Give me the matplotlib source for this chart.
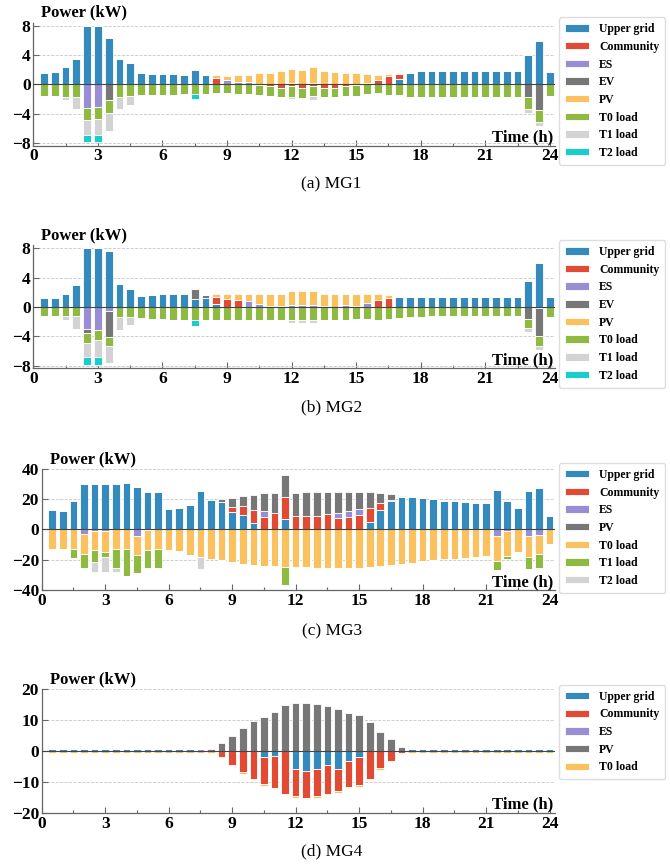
import numpy as np
import matplotlib
matplotlib.use("Agg")
import matplotlib.pyplot as plt
from matplotlib.patches import Patch
from matplotlib.ticker import MultipleLocator

plt.rcParams['font.family'] = ['Liberation Serif', 'DejaVu Serif']

# half-hour slots, 0.5 h ... 24 h
hours = np.arange(1, 49) * 0.5

# ---------------- MG1 (signed: + supply, - consumption) ----------------
mg1_grid = [1.6, 1.65, 2.3, 3.45, 8.0, 8.0, 6.4, 3.45, 2.85, 1.5,
            1.4, 1.4, 1.4, 1.3, 2.0, 1.3, 0, 0, 0, 0,
            0, 0, 0, 0, 0, 0, 0, 0, 0, 0,
            0, 0, 0, 0.7, 1.6, 1.8, 1.8, 1.85, 1.8, 1.8,
            1.8, 1.8, 1.8, 1.8, 1.8, 4.0, 5.9, 1.7]
mg1_comm = [0, 0, 0, 0, 0, 0, 0, 0, 0, 0,
            0, 0, 0, 0, 0, 0, 0.9, 0, 0, 0,
            -0.15, -0.2, -0.45, -0.3, -0.55, -0.2, -0.5, -0.5, -0.2, -0.15,
            0, 0.6, 1.1, 0.75, 0, 0, 0, 0, 0, 0,
            0, 0, 0, 0, 0, 0, 0, 0]
mg1_es = [0, 0, 0, 0, -3.3, -3.05, 0, 0, 0, 0,
          0, 0, 0, 0, 0, 0, 0, 0.6, 0.3, 0.3,
          0, 0, 0, 0.15, 0, 0.2, 0, 0, 0, 0,
          0.15, 0, 0, 0, 0, 0, 0, 0, 0, 0,
          0, 0, 0, 0, 0, 0, 0, 0]
mg1_ev = [0, 0, 0, 0, 0, 0, -2.2, 0, 0, 0,
          0, 0, 0, 0, 0, 0, 0, 0, 0, 0,
          0, 0, 0, 0, 0, 0, 0, 0, 0, 0,
          0, 0, 0, 0, 0, 0, 0, 0, 0, 0,
          0, 0, 0, 0, 0, -1.7, -3.5, 0]
mg1_pv = [0, 0, 0, 0, 0, 0, 0, 0, 0, 0,
          0, 0, 0, 0, 0.1, 0, 0.35, 0.6, 1.0, 1.0,
          1.5, 1.6, 1.85, 1.95, 1.95, 2.1, 1.8, 1.7, 1.6, 1.6,
          1.25, 0.7, 0.3, 0.05, 0, 0, 0, 0, 0, 0,
          0, 0, 0, 0, 0, 0, 0, 0]
mg1_t0 = [-1.6, -1.6, -1.7, -1.7, -1.65, -1.65, -1.75, -1.7, -1.6, -1.45,
          -1.45, -1.45, -1.45, -1.3, -1.3, -1.3, -1.2, -1.2, -1.3, -1.3,
          -1.3, -1.4, -1.3, -1.4, -1.35, -1.35, -1.25, -1.2, -1.35, -1.4,
          -1.3, -1.25, -1.45, -1.45, -1.7, -1.75, -1.75, -1.75, -1.75, -1.75,
          -1.75, -1.75, -1.75, -1.75, -1.75, -1.65, -1.7, -1.6]
mg1_t1 = [0, 0, -0.5, -1.7, -1.95, -2.2, -2.4, -1.7, -1.2, 0,
          0, 0, 0, 0, 0, 0, 0, 0, 0, 0,
          0, 0, 0, -0.35, 0, -0.65, 0, 0, 0, 0,
          0, 0, 0, 0, 0, 0, 0, 0, 0, 0,
          0, 0, 0, 0, 0, -0.6, -0.55, 0]
mg1_t2 = [0, 0, 0, 0, -1.05, -1.05, 0, 0, 0, 0,
          0, 0, 0, 0, -0.75, 0, 0, 0, 0, 0,
          0, 0, 0, 0, 0, 0, 0, 0, 0, 0,
          0, 0, 0, 0, 0, 0, 0, 0, 0, 0,
          0, 0, 0, 0, 0, 0, 0, 0]

# ---------------- MG2 ----------------
mg2_grid = [1.27, 1.27, 1.8, 3.0, 8.0, 8.0, 7.65, 3.15, 2.5, 1.45,
            1.6, 1.7, 1.7, 1.7, 1.1, 1.27, 0.45, 0, 0, 0,
            0, 0, 0, 0, 0, 0, 0, 0, 0, 0,
            0, 0, 0, 1.35, 1.3, 1.35, 1.35, 1.35, 1.35, 1.35,
            1.35, 1.35, 1.35, 1.35, 1.35, 3.6, 6.0, 1.35]
mg2_comm = [0, 0, 0, 0, 0, 0, 0, 0, 0, 0,
            0, 0, 0, 0, 0, 0, 0.95, 1.1, 0.9, 0,
            0, 0, 0, 0, 0, 0, 0, 0, 0, 0,
            0, 1.0, 1.2, 0, 0, 0, 0, 0, 0, 0,
            0, 0, 0, 0, 0, 0, 0, 0]
mg2_es = [0, 0, 0, 0, -2.95, -3.2, -0.6, 0, 0, 0,
          0, 0, 0, 0, 0, 0, 0, 0, 0, 0.75,
          0.4, 0.15, 0.1, 0.3, 0.2, 0.2, 0.1, 0, 0.2, 0.15,
          0.6, 0, 0, 0, 0, 0, 0, 0, 0, 0,
          0, 0, 0, 0, 0, 0, -0.2, 0]
mg2_ev = [0, 0, 0, 0, -0.65, 0, -3.55, 0, 0, 0,
          0, 0, 0.1, 0.1, 1.4, 0.4, 0, 0, 0, 0,
          0, 0, 0, 0, 0, 0, 0, 0, 0, 0,
          0, 0, 0, 0, 0, 0, 0, 0, 0, 0,
          0, 0, 0, 0, 0, -1.6, -3.8, 0]
mg2_pv = [0, 0, 0, 0, 0, 0, 0, 0, 0, 0,
          0, 0, 0, 0, 0.1, 0, 0.4, 0.7, 0.9, 1.05,
          1.4, 1.65, 1.7, 1.9, 2.0, 2.0, 1.7, 1.7, 1.5, 1.55,
          1.1, 0.7, 0.45, 0.15, 0, 0.05, 0, 0, 0, 0,
          0, 0, 0, 0, 0, 0, 0, 0]
mg2_t0 = [-1.27, -1.27, -1.27, -1.27, -1.35, -1.25, -1.25, -1.35, -1.35, -1.5,
          -1.6, -1.7, -1.75, -1.75, -1.8, -1.75, -1.75, -1.75, -1.75, -1.8,
          -1.75, -1.75, -1.75, -1.8, -1.8, -1.8, -1.8, -1.75, -1.75, -1.65,
          -1.65, -1.75, -1.65, -1.5, -1.35, -1.35, -1.27, -1.27, -1.27, -1.27,
          -1.27, -1.27, -1.27, -1.27, -1.27, -1.25, -1.35, -1.35]
mg2_t1 = [0, 0, -0.55, -1.8, -1.95, -2.45, -2.3, -1.8, -1.15, 0,
          0, 0, 0, 0, 0, 0, 0, 0, 0, 0,
          0, 0, 0, -0.35, -0.45, -0.35, 0, 0, 0, 0,
          0, 0, 0, 0, 0, 0, 0, 0, 0, 0,
          0, 0, 0, 0, 0, -0.6, -0.55, 0]
mg2_t2 = [0, 0, 0, 0, -1.0, -1.0, 0, 0, 0, 0,
          0, 0, 0, 0, -0.75, 0, 0, 0, 0, 0,
          0, 0, 0, 0, 0, 0, 0, 0, 0, 0,
          0, 0, 0, 0, 0, 0, 0, 0, 0, 0,
          0, 0, 0, 0, 0, 0, 0, 0]

# ---------------- MG3 ----------------
mg3_grid = [12.8, 12.4, 18.5, 29.8, 30, 30, 30, 30.4, 28.3, 25,
            24.7, 13.5, 14.1, 16.1, 25.6, 19.2, 18.3, 11.7, 9.5, 4.4,
            0, 0, 6.6, 0, 0, 0, 0, 0, 0, 0,
            5.1, 13.2, 18.8, 21.2, 21.2, 20.5, 19.9, 18.8, 18.5, 18.1,
            17.7, 17.2, 26, 18.8, 14.3, 25.6, 27.2, 8.8]
mg3_comm = [0, 0, 0, 0, 0, 0, 0, 0, 0, 0,
            0, 0, 0, 0, 0, 0, 0, 3.3, 6.0, 8.8,
            8.4, 10.6, 14.6, 9, 9, 9, 10.2, 7.7, 8.4, 9.5,
            9.0, 4.0, 0.7, 0, 0, 0, 0, 0, 0, 0,
            0, 0, 0, 0, 0, 0, 0, 0]
mg3_es = [0, 0, 0, -3.1, -1.0, -1.2, 0, 0, -4.4, -0.5,
          0, 0, 0, 0, 0, 0, 0, 0, 0, 0,
          4.0, 0, 0, 0, 0, 0, 0, 3.5, 4.0, 4.0,
          0, 0, 0, 0, 0, 0, 0, 0, 0, 0,
          0, 0, -4.2, -1.0, 0, -4.2, -3.5, 0]
mg3_pv = [0, 0, 0, 0, 0, 0, 0, 0, 0, 0,
          0, 0, 0, 0, 0, 0, 2.0, 5.5, 6.8, 9.5,
          11.5, 13.2, 14.8, 15.4, 15.5, 15.5, 14.5, 13.7, 12.6, 11.3,
          10.4, 6.6, 3.8, 0.9, 0, 0, 0, 0, 0, 0,
          0, 0, 0, 0, 0, 0, 0, 0]
mg3_t0 = [-13.2, -12.8, -13.2, -12.8, -12.7, -13.6, -13.0, -12.6, -12.6, -13.2,
          -13.2, -13.7, -14.3, -16.6, -18.5, -19.4, -20.3, -21.2, -22.5, -23.2,
          -24.0, -24.3, -24.7, -24.7, -24.9, -25.2, -25.4, -25.4, -25.4, -25.2,
          -24.7, -24.3, -23.6, -22.7, -21.9, -20.8, -20.3, -19.4, -19.2, -18.8,
          -18.3, -17.7, -16.8, -16.7, -14.8, -14.3, -12.4, -9.5]
mg3_t1 = [0, 0, -5.6, -9.5, -7.7, -3.3, -12.2, -18.1, -11.7, -11.7,
          -12.2, 0, 0, 0, 0, 0, 0, 0, 0, 0,
          0, 0, -11.7, 0, 0, 0, 0, 0, 0, 0,
          0, 0, 0, 0, 0, 0, 0, 0, 0, 0,
          0, 0, -6.0, -1.5, 0, -7.5, -9.7, 0]
mg3_t2 = [0, 0, 0, 0, -6.6, -9.9, -2.8, 0, 0, 0,
          0, 0, 0, 0, -7.8, 0, 0, 0, 0, 0,
          0, 0, 0, 0, 0, 0, 0, 0, 0, 0,
          0, 0, 0, 0, 0, 0, 0, 0, 0, 0,
          0, 0, 0, 0, 0, 0, 0, 0]

# ---------------- MG4 ----------------
mg4_grid = [0.8, 0.8, 0.8, 0.8, 0.8, 0.8, 0.8, 0.8, 0.8, 0.8,
            0.8, 0.8, 0.8, 0.8, 0, 0, 0, 0, 0, 0,
            -1.9, -1.5, 0, -5.8, -6.6, -5.8, -4.4, -5.8, -3.2, -1.9,
            0, 0, 0, 0, 0.8, 0.8, 0.8, 0.8, 0.8, 0.8,
            0.8, 0.8, 0.8, 0.8, 0.8, 0.8, 0.8, 0.8]
mg4_comm = [0, 0, 0, 0, 0, 0, 0, 0, 0, 0,
            0, 0, 0, 0, 0, 0, -1.8, -4.5, -6.8, -9.0,
            -8.8, -10.4, -13.9, -8.9, -8.5, -8.9, -9.5, -7.2, -8.4, -9.1,
            -9.0, -5.5, -3.1, -0.55, 0, 0, 0, 0, 0, 0,
            0, 0, 0, 0, 0, 0, 0, 0]
mg4_es = [0, 0, 0, 0, 0, 0, 0, 0, 0, 0,
          0, 0, 0, 0, 0.8, 0, 0, 0, 0, 0,
          0, 0, 0, 0, 0, 0, 0, 0, 0, 0,
          0, 0, 0, 0, 0, 0, 0, 0, 0, 0,
          0, 0, 0, 0, 0, 0, 0, 0]
mg4_pv = [0, 0, 0, 0, 0, 0, 0, 0, 0, 0,
          0, 0, 0, 0, 0, 0.8, 2.5, 5.0, 7.4, 9.6,
          11.1, 12.6, 14.8, 15.5, 15.7, 15.4, 14.7, 13.6, 12.3, 11.8,
          9.5, 6.1, 3.9, 1.3, 0, 0, 0, 0, 0, 0,
          0, 0, 0, 0, 0, 0, 0, 0]
mg4_t0 = [-0.5] * 48

# colours
C_GRID = '#348ABD'
C_COMM = '#E24A33'
C_ES = '#988ED5'
C_GRAY = '#777777'
C_YEL = '#FBC15E'
C_GRN = '#8EBA42'
C_LGRAY = '#D3D3D3'
C_CYAN = '#1ACCCC'

panels = [
    {"caption": "(a) MG1", "ylim": 8.4, "yticks": [-8, -4, 0, 4, 8],
     "rect": [0.0497, 0.832, 0.779, 0.1416], "leg_y": 0.980,
     "series": [("Upper grid", C_GRID, mg1_grid), ("Community", C_COMM, mg1_comm),
                ("ES", C_ES, mg1_es), ("EV", C_GRAY, mg1_ev), ("PV", C_YEL, mg1_pv),
                ("T0 load", C_GRN, mg1_t0), ("T1 load", C_LGRAY, mg1_t1),
                ("T2 load", C_CYAN, mg1_t2)], "cap_y": 0.783},
    {"caption": "(b) MG2", "ylim": 8.4, "yticks": [-8, -4, 0, 4, 8],
     "rect": [0.0497, 0.575, 0.779, 0.142], "leg_y": 0.723,
     "series": [("Upper grid", C_GRID, mg2_grid), ("Community", C_COMM, mg2_comm),
                ("ES", C_ES, mg2_es), ("EV", C_GRAY, mg2_ev), ("PV", C_YEL, mg2_pv),
                ("T0 load", C_GRN, mg2_t0), ("T1 load", C_LGRAY, mg2_t1),
                ("T2 load", C_CYAN, mg2_t2)], "cap_y": 0.525},
    {"caption": "(c) MG3", "ylim": 40, "yticks": [-40, -20, 0, 20, 40],
     "rect": [0.0622, 0.3195, 0.766, 0.1396], "leg_y": 0.466,
     "series": [("Upper grid", C_GRID, mg3_grid), ("Community", C_COMM, mg3_comm),
                ("ES", C_ES, mg3_es), ("PV", C_GRAY, mg3_pv), ("T0 load", C_YEL, mg3_t0),
                ("T1 load", C_GRN, mg3_t1), ("T2 load", C_LGRAY, mg3_t2)], "cap_y": 0.2676},
    {"caption": "(d) MG4", "ylim": 20, "yticks": [-20, -10, 0, 10, 20],
     "rect": [0.0622, 0.0626, 0.766, 0.1423], "leg_y": 0.210,
     "series": [("Upper grid", C_GRID, mg4_grid), ("Community", C_COMM, mg4_comm),
                ("ES", C_ES, mg4_es), ("PV", C_GRAY, mg4_pv), ("T0 load", C_YEL, mg4_t0)],
     "cap_y": 0.0138},
]

fig = plt.figure(figsize=(6.7, 8.67), dpi=100)
spine_c = '#666666'

for p in panels:
    ax = fig.add_axes(p["rect"])
    pos_bottom = np.zeros(len(hours))
    neg_bottom = np.zeros(len(hours))
    handles = []
    for label, color, vals in p["series"]:
        v = np.asarray(vals, dtype=float)
        pos = np.where(v > 0, v, 0)
        neg = np.where(v < 0, v, 0)
        if pos.any():
            ax.bar(hours, pos, width=0.36, bottom=pos_bottom, color=color,
                   edgecolor='white', linewidth=0.6, zorder=3)
            pos_bottom += pos
        if neg.any():
            ax.bar(hours, neg, width=0.36, bottom=neg_bottom, color=color,
                   edgecolor='white', linewidth=0.6, zorder=3)
            neg_bottom += neg
        handles.append(Patch(facecolor=color, edgecolor='white', linewidth=0.6, label=label))

    ax.axhline(0, color='#444444', linewidth=0.8, zorder=4)
    ax.set_xlim(0, 24.25)
    ax.set_ylim(-p["ylim"], p["ylim"])
    ax.set_yticks(p["yticks"])
    ax.set_xticks(range(0, 25, 3))
    ax.xaxis.set_minor_locator(MultipleLocator(1.5))
    ax.grid(True, axis='y', linestyle='--', color='#c8c8c8', linewidth=0.6, zorder=0)
    for s in ['top', 'right']:
        ax.spines[s].set_visible(False)
    for s in ['left', 'bottom']:
        ax.spines[s].set_color(spine_c)
        ax.spines[s].set_linewidth(0.9)
    ax.tick_params(which='both', direction='in', color=spine_c, width=0.8)
    ax.tick_params(which='major', length=4, labelsize=12.5, pad=2)
    ax.tick_params(which='minor', length=2.5)
    for lab in ax.get_xticklabels() + ax.get_yticklabels():
        lab.set_fontweight('bold')

    ax.annotate("Power (kW)", xy=(0, 1), xycoords='axes fraction',
                xytext=(8, 6), textcoords='offset pixels', ha='left', va='baseline',
                fontsize=12, fontweight='bold')
    ax.annotate("Time (h)", xy=(1, 0), xycoords='axes fraction',
                xytext=(-2, 4), textcoords='offset pixels', ha='right', va='baseline',
                fontsize=12, fontweight='bold')

    ax.legend(handles=handles, loc='upper left', bbox_to_anchor=(0.834, p["leg_y"]),
              bbox_transform=fig.transFigure, prop={'weight': 'bold', 'size': 8.5},
              frameon=True, fancybox=True, edgecolor='#dddddd', framealpha=1,
              handlelength=2.1, handleheight=0.6, handletextpad=0.8, labelspacing=0.48,
              borderpad=0.5, borderaxespad=0)

    fig.text(0.495, p["cap_y"], p["caption"], ha='center', va='baseline', fontsize=12.5)

fig.savefig("out.png", dpi=100)
